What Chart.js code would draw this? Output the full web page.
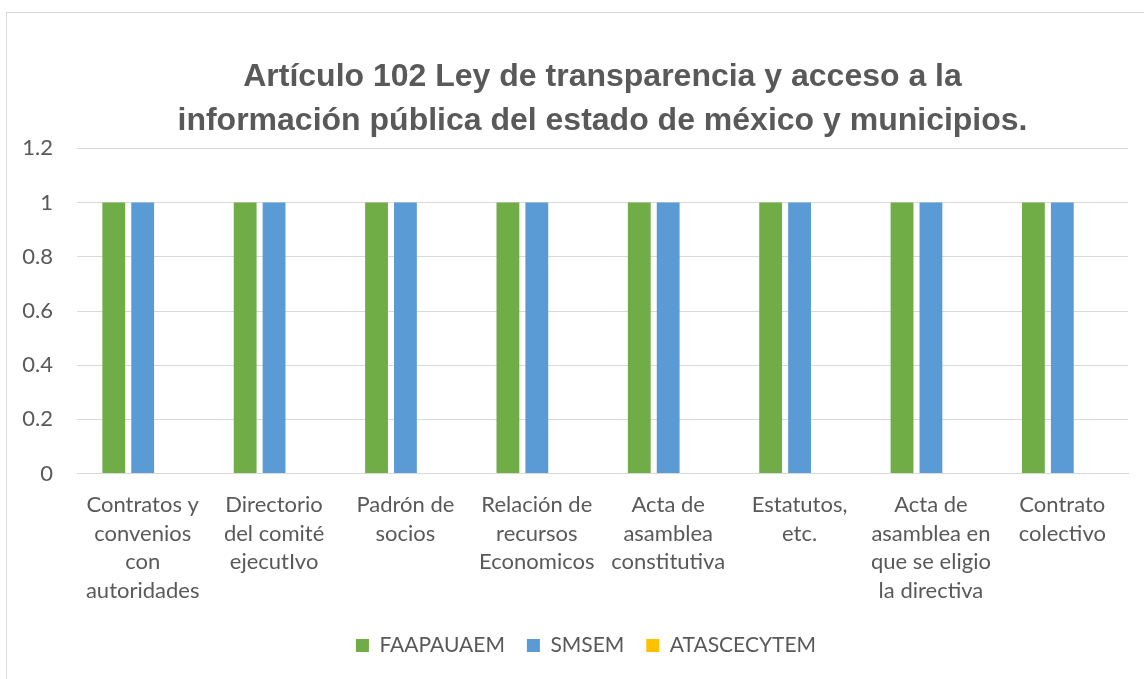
<!DOCTYPE html>
<html>
<head>
<meta charset="utf-8">
<script src="https://cdn.jsdelivr.net/npm/chart.js@4"></script>
<style>
    html, body { margin: 0; padding: 0; background: #fff; overflow: hidden; width: 1144px; height: 679px; }
    #frame { position: absolute; left: 6px; top: 12px; width: 1196px; height: 700px; border: 1px solid #d9d9d9; }
    canvas { display: block; }
</style>
</head>
<body>
<div id="frame"><canvas id="chart" width="1196" height="680"></canvas></div>
<script>
// Datos del gráfico
const categorias = [
    ['Contratos y', 'convenios', 'con', 'autoridades'],
    ['Directorio', 'del comité', 'ejecutIvo'],
    ['Padrón de', 'socios'],
    ['Relación de', 'recursos', 'Economicos'],
    ['Acta de', 'asamblea', 'constitutiva'],
    ['Estatutos,', 'etc.'],
    ['Acta de', 'asamblea en', 'que se eligio', 'la directiva'],
    ['Contrato', 'colectivo']
];
const faapauaem = [1, 1, 1, 1, 1, 1, 1, 1];
const smsem = [1, 1, 1, 1, 1, 1, 1, 1];
const atascecytem = [0, 0, 0, 0, 0, 0, 0, 0];
const etiquetasY = ['0', '0.2', '0.4', '0.6', '0.8', '1', '1.2'];
const titulo = ['Artículo 102 Ley de transparencia y acceso a la', 'información pública del estado de méxico y municipios.'];

const gris = '#595959';
const lineaGris = '#d9d9d9';
const fuenteEje = { family: 'Lato, sans-serif', size: 22 };

// ancho de la etiqueta más larga del eje Y (para alinear a la derecha fuera del recorte)
const medir = document.createElement('canvas').getContext('2d');
medir.font = fuenteEje.size + 'px ' + fuenteEje.family;
const anchoY = Math.max(...etiquetasY.map(t => medir.measureText(t).width));

const ctx = document.getElementById('chart').getContext('2d');
new Chart(ctx, {
    type: 'bar',
    data: {
        labels: categorias,
        datasets: [{
            label: 'FAAPAUAEM',
            data: faapauaem,
            backgroundColor: '#70ad47'
        }, {
            label: 'SMSEM',
            data: smsem,
            backgroundColor: '#5b9bd5'
        }, {
            label: 'ATASCECYTEM',
            data: atascecytem,
            backgroundColor: '#ffc000'
        }]
    },
    options: {
        responsive: false,
        animation: false,
        categoryPercentage: 0.66,
        barPercentage: 0.79,
        layout: {
            padding: { left: 37, right: 75, top: 0, bottom: 27 }
        },
        plugins: {
            title: {
                display: true,
                fullSize: false,
                text: titulo,
                color: gris,
                font: { family: '"Liberation Sans", Arial, sans-serif', size: 32, weight: 'bold', lineHeight: 1.35 },
                padding: { top: 43, bottom: 6 }
            },
            legend: {
                position: 'bottom',
                labels: {
                    color: gris,
                    boxWidth: 13,
                    boxHeight: 13,
                    padding: 22,
                    font: { family: 'Lato, sans-serif', size: 21 }
                }
            },
            tooltip: { enabled: false }
        },
        scales: {
            x: {
                grid: { display: false },
                border: { color: lineaGris, width: 1 },
                ticks: {
                    color: gris,
                    autoSkip: false,
                    maxRotation: 0,
                    padding: 9,
                    font: { family: 'Lato, sans-serif', size: 22, lineHeight: 1.3 }
                },
                afterFit: (scale) => { scale.height -= 1; }
            },
            y: {
                min: 0,
                max: 1.2,
                border: { display: false },
                grid: { color: lineaGris, lineWidth: 1, drawTicks: false },
                ticks: {
                    stepSize: 0.2,
                    color: gris,
                    mirror: true,
                    crossAlign: 'far',
                    padding: -(24 + anchoY),
                    font: fuenteEje,
                    callback: (v, i) => etiquetasY[i]
                },
                afterFit: (scale) => { scale.width = 33; }
            }
        }
    }
});
</script>
</body>
</html>
